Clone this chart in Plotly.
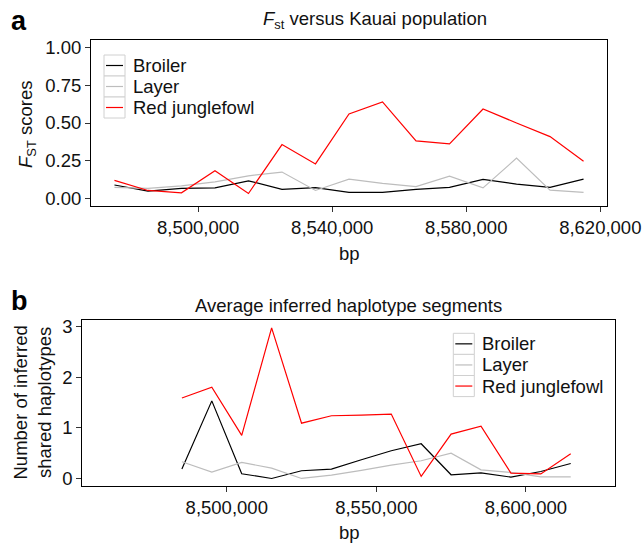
import plotly.graph_objects as go

W, H = 643, 544

series_names = ["Broiler", "Layer", "Red junglefowl"]
series_colors = ["#000000", "#bdbdbd", "#ff0000"]

# Panel a: Fst versus Kauai population
bp_a = [8475000, 8485000, 8495000, 8505000, 8515000, 8525000, 8535000, 8545000,
        8555000, 8565000, 8575000, 8585000, 8595000, 8605000, 8615000]
fst_broiler = [0.089, 0.049, 0.067, 0.070, 0.117, 0.060, 0.072, 0.040,
               0.040, 0.060, 0.073, 0.126, 0.095, 0.073, 0.128]
fst_layer = [0.073, 0.067, 0.084, 0.110, 0.150, 0.175, 0.053, 0.128,
             0.100, 0.078, 0.148, 0.070, 0.267, 0.055, 0.040]
fst_rjf = [0.120, 0.053, 0.037, 0.184, 0.033, 0.357, 0.229, 0.560,
           0.640, 0.382, 0.362, 0.593, 0.500, 0.410, 0.247]

# Panel b: Average inferred haplotype segments
bp_b = [8485000, 8495000, 8505000, 8515000, 8525000, 8535000, 8545000,
        8555000, 8565000, 8575000, 8585000, 8595000, 8605000, 8615000]
hap_broiler = [0.185, 1.53, 0.093, 0.0, 0.152, 0.185, 0.37,
               0.547, 0.685, 0.073, 0.112, 0.026, 0.138, 0.296]
hap_layer = [0.33, 0.125, 0.316, 0.205, 0.0, 0.066, 0.158,
             0.263, 0.35, 0.50, 0.17, 0.12, 0.03, 0.03]
hap_rjf = [1.587, 1.80, 0.85, 2.97, 1.09, 1.237, 1.25,
           1.27, 0.04, 0.875, 1.03, 0.105, 0.09, 0.487]

xticks_a = [8500000, 8540000, 8580000, 8620000]
yticks_a = [0, 0.25, 0.5, 0.75, 1.0]
xticks_b = [8500000, 8550000, 8600000]
yticks_b = [0, 1, 2, 3]

FONT = "Liberation Sans, Arial, Helvetica, sans-serif"
FS = 18.5
TXT = "#111111"


def px(x):
    return x / W


def py(y):
    return 1 - y / H


fig = go.Figure()

for name, color, ys in zip(series_names, series_colors, [fst_broiler, fst_layer, fst_rjf]):
    fig.add_trace(go.Scatter(x=bp_a, y=ys, mode="lines", name=name,
                             line=dict(color=color, width=1.2),
                             xaxis="x", yaxis="y", showlegend=False))
for name, color, ys in zip(series_names, series_colors, [hap_broiler, hap_layer, hap_rjf]):
    fig.add_trace(go.Scatter(x=bp_b, y=ys, mode="lines", name=name,
                             line=dict(color=color, width=1.2),
                             xaxis="x2", yaxis="y2", showlegend=False))

axis_common = dict(showgrid=False, zeroline=False, showline=True, mirror=True,
                   automargin=False,
                   linecolor="#000000", linewidth=1, ticks="outside", ticklen=5,
                   tickcolor="#333333", tickwidth=1,
                   tickfont=dict(family=FONT, size=FS, color=TXT))

fig.update_layout(
    width=W, height=H, autosize=False,
    margin=dict(l=0, r=0, t=0, b=0, pad=0, autoexpand=False),
    paper_bgcolor="white", plot_bgcolor="white",
    showlegend=False,
    font=dict(family=FONT, size=FS, color=TXT),
    xaxis=dict(domain=[px(91), px(607)], anchor="y", range=[8468000, 8622000],
               tickvals=xticks_a, tickformat=",d", **axis_common),
    yaxis=dict(domain=[py(206), py(40)], anchor="x", range=[-0.05, 1.05],
               tickvals=yticks_a, tickformat=".2f", **axis_common),
    xaxis2=dict(domain=[px(82.3), px(615.3)], anchor="y2", range=[8451700, 8629900],
                tickvals=xticks_b, tickformat=",d", **axis_common),
    yaxis2=dict(domain=[py(486), py(320.3)], anchor="x2", range=[-0.1485, 3.1185],
                tickvals=yticks_b, tickformat="d", **axis_common),
)

annotations = [
    dict(text="<b>a</b>", x=px(9), y=py(21), xanchor="left", yanchor="middle",
         font=dict(family=FONT, size=27, color="#000")),
    dict(text="<b>b</b>", x=px(9), y=py(301), xanchor="left", yanchor="middle",
         font=dict(family=FONT, size=27, color="#000")),
    dict(text="<i>F</i><sub>st</sub> versus Kauai population", x=px(375), y=py(20),
         xanchor="center", yanchor="middle", font=dict(family=FONT, size=FS, color=TXT)),
    dict(text="Average inferred haplotype segments", x=px(348.8), y=py(305),
         xanchor="center", yanchor="middle", font=dict(family=FONT, size=FS, color=TXT)),
    # axis titles
    dict(text="bp", x=px(349), y=py(253), xanchor="center", yanchor="middle",
         font=dict(family=FONT, size=FS, color=TXT)),
    dict(text="bp", x=px(349), y=py(532), xanchor="center", yanchor="middle",
         font=dict(family=FONT, size=FS, color=TXT)),
    dict(text="<i>F</i><sub>ST</sub> scores", x=px(27), y=py(124), textangle=-90,
         xanchor="center", yanchor="middle", font=dict(family=FONT, size=FS, color=TXT)),
    dict(text="Number of inferred<br>shared haplotypes", x=px(31.5), y=py(403), textangle=-90,
         xanchor="center", yanchor="middle", font=dict(family=FONT, size=FS, color=TXT)),
]

shapes = []
# manual legends (ggplot style key boxes)
legend_specs = [
    dict(x0=104, x1=125, y0=55, rowh=21, tx=131),
    dict(x0=453.3, x1=474.3, y0=333.3, rowh=21.1, tx=480),
]
for spec in legend_specs:
    for i, (name, color) in enumerate(zip(series_names, series_colors)):
        top = spec["y0"] + i * spec["rowh"]
        bot = top + spec["rowh"]
        mid = (top + bot) / 2
        shapes.append(dict(type="rect", xref="paper", yref="paper",
                           x0=px(spec["x0"]), x1=px(spec["x1"]), y0=py(bot), y1=py(top),
                           line=dict(color="#d0d0d0", width=1), fillcolor="white"))
        shapes.append(dict(type="line", xref="paper", yref="paper",
                           x0=px(spec["x0"] + 2), x1=px(spec["x1"] - 2), y0=py(mid), y1=py(mid),
                           line=dict(color=color, width=1.2)))
        annotations.append(dict(text=name, x=px(spec["tx"]), y=py(mid), xanchor="left",
                                yanchor="middle", showarrow=False,
                                font=dict(family=FONT, size=FS, color=TXT)))

for a in annotations:
    a.setdefault("showarrow", False)
    a["xref"] = "paper"
    a["yref"] = "paper"

fig.update_layout(annotations=annotations, shapes=shapes)

post = ("document.body.style.margin='0';document.body.style.padding='0';"
        "document.body.style.overflow='hidden';")

fig.write_html("out.html", config={"displayModeBar": False}, post_script=post)
